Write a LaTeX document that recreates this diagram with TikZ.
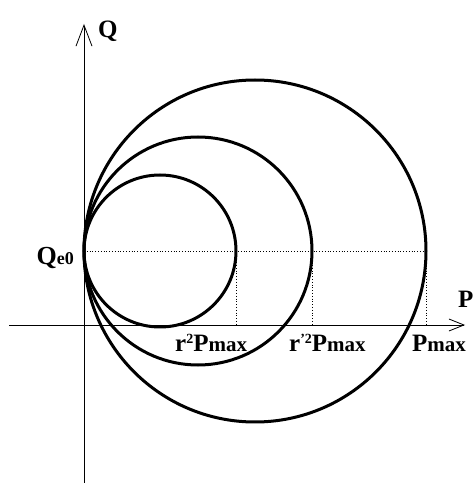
\documentclass[tikz,border=0pt]{standalone}
\usepackage{fontspec}
\setmainfont{Liberation Serif}
\usetikzlibrary{arrows.meta,calc}

\newcommand{\bigtxt}{\fontsize{25}{29}\bfseries\selectfont}
\newcommand{\subtxt}[1]{{\fontsize{21}{24}\selectfont #1}}
\newcommand{\suptxt}[1]{\raisebox{8pt}{\fontsize{14}{16}\selectfont #1}}

\begin{document}
\begin{tikzpicture}[
  x=1pt, y=1pt,
  axis/.style={
    line width=0.8pt
  },
  qarrow/.style={
    axis,
    -{Straight Barb[length=21pt,width=16pt,line width=0.8pt]}
  },
  parrow/.style={
    axis,
    -{Straight Barb[length=15pt,width=12pt,line width=0.8pt]}
  },
  circ/.style={
    line width=3pt
  },
  guide/.style={
    dotted,
    line width=0.8pt
  },
  lbl/.style={
    font=\bigtxt,
    inner sep=0pt
  }
]

\useasboundingbox (0,0) rectangle (474,483);

% Axes
\coordinate (qbottom) at (84,0);
\coordinate (qtop) at (84,459);
\coordinate (pleft) at (9,158);
\coordinate (pright) at (465,158);
\draw[qarrow] (qbottom) -- (qtop);
\draw[parrow] (pleft) -- (pright);

% Common point on the Q axis
\coordinate (qe0) at (84,232);

% Circles
\draw[circ] ($(qe0)+(76,0)$) circle[radius=76pt];
\draw[circ] ($(qe0)+(114,0)$) circle[radius=114pt];
\draw[circ] ($(qe0)+(171,0)$) circle[radius=171pt];

% Guide lines
\coordinate (rtop) at (236,232);
\coordinate (rbot) at (236,158);
\coordinate (rptop) at (312,232);
\coordinate (rpbot) at (312,158);
\coordinate (pmtop) at (426,232);
\coordinate (pmbot) at (426,158);
\draw[guide] (qe0) -- (pmtop);
\draw[guide] (rtop) -- (rbot);
\draw[guide] (rptop) -- (rpbot);
\draw[guide] (pmtop) -- (pmbot);

% Labels
\node[lbl, anchor=base west] (qlabel) at (98,445) {Q};
\node[lbl, anchor=base west] (plabel) at (458,175) {P};
\node[lbl, anchor=base east] (qe0label) at (74,218) {\fontsize{26}{30}\selectfont Q{\fontsize{18}{20}\selectfont e0}};
\node[lbl, anchor=base west] (rlabel) at (175,131) {r\suptxt{2}P\subtxt{max}};
\node[lbl, anchor=base west] (rplabel) at (289,131) {r\suptxt{'2}P\subtxt{max}};
\node[lbl, anchor=base west] (pmaxlabel) at (412,131) {P\subtxt{max}};

\end{tikzpicture}
\end{document}
